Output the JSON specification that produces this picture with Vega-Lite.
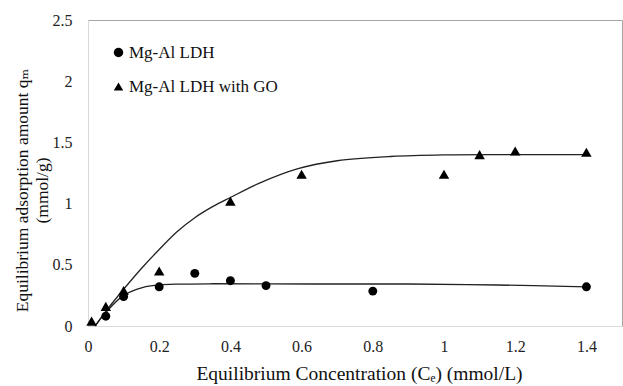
{
  "$schema": "https://vega.github.io/schema/vega-lite/v6.json",
  "width": 534,
  "height": 306,
  "autosize": {"type": "none"},
  "padding": {"left": 88, "top": 20, "right": 1, "bottom": 60},
  "background": "white",
  "config": {
    "font": "'Liberation Serif', 'DejaVu Serif', serif",
    "view": {"stroke": "#a6a6a6", "strokeWidth": 1},
    "axis": {
      "labelFont": "'Liberation Serif', 'DejaVu Serif', serif",
      "titleFont": "'Liberation Serif', 'DejaVu Serif', serif",
      "labelFontSize": 16,
      "titleFontSize": 19.5,
      "labelColor": "#222",
      "titleColor": "#111",
      "titleFontWeight": "normal",
      "grid": false,
      "ticks": false,
      "labelFlush": false,
      "domainColor": "#d9d9d9"
    },
    "legend": {
      "labelFont": "'Liberation Serif', 'DejaVu Serif', serif"
    }
  },
  "datasets": {
    "points": [
      {"x": 0.05, "y": 0.08, "series": "Mg-Al LDH"},
      {"x": 0.1, "y": 0.24, "series": "Mg-Al LDH"},
      {"x": 0.2, "y": 0.32, "series": "Mg-Al LDH"},
      {"x": 0.3, "y": 0.43, "series": "Mg-Al LDH"},
      {"x": 0.4, "y": 0.37, "series": "Mg-Al LDH"},
      {"x": 0.5, "y": 0.33, "series": "Mg-Al LDH"},
      {"x": 0.8, "y": 0.285, "series": "Mg-Al LDH"},
      {"x": 1.4, "y": 0.32, "series": "Mg-Al LDH"},
      {"x": 0.01, "y": 0.04, "series": "Mg-Al LDH with GO"},
      {"x": 0.05, "y": 0.16, "series": "Mg-Al LDH with GO"},
      {"x": 0.1, "y": 0.29, "series": "Mg-Al LDH with GO"},
      {"x": 0.2, "y": 0.45, "series": "Mg-Al LDH with GO"},
      {"x": 0.4, "y": 1.02, "series": "Mg-Al LDH with GO"},
      {"x": 0.6, "y": 1.24, "series": "Mg-Al LDH with GO"},
      {"x": 1.0, "y": 1.24, "series": "Mg-Al LDH with GO"},
      {"x": 1.1, "y": 1.4, "series": "Mg-Al LDH with GO"},
      {"x": 1.2, "y": 1.43, "series": "Mg-Al LDH with GO"},
      {"x": 1.4, "y": 1.42, "series": "Mg-Al LDH with GO"}
    ],
    "fit": [
      {"x": 0.02, "y": 0.0, "series": "LDH"},
      {"x": 0.05, "y": 0.11, "series": "LDH"},
      {"x": 0.1, "y": 0.25, "series": "LDH"},
      {"x": 0.155, "y": 0.316, "series": "LDH"},
      {"x": 0.2, "y": 0.335, "series": "LDH"},
      {"x": 0.25, "y": 0.342, "series": "LDH"},
      {"x": 0.35, "y": 0.345, "series": "LDH"},
      {"x": 0.5, "y": 0.344, "series": "LDH"},
      {"x": 0.7, "y": 0.343, "series": "LDH"},
      {"x": 0.9, "y": 0.343, "series": "LDH"},
      {"x": 1.15, "y": 0.335, "series": "LDH"},
      {"x": 1.4, "y": 0.32, "series": "LDH"},
      {"x": 0.02, "y": 0.0, "series": "GO"},
      {"x": 0.05, "y": 0.12, "series": "GO"},
      {"x": 0.1, "y": 0.3, "series": "GO"},
      {"x": 0.15, "y": 0.47, "series": "GO"},
      {"x": 0.2, "y": 0.625, "series": "GO"},
      {"x": 0.25, "y": 0.77, "series": "GO"},
      {"x": 0.3, "y": 0.885, "series": "GO"},
      {"x": 0.35, "y": 0.975, "series": "GO"},
      {"x": 0.4, "y": 1.05, "series": "GO"},
      {"x": 0.48, "y": 1.165, "series": "GO"},
      {"x": 0.59, "y": 1.285, "series": "GO"},
      {"x": 0.7, "y": 1.35, "series": "GO"},
      {"x": 0.85, "y": 1.385, "series": "GO"},
      {"x": 1.0, "y": 1.398, "series": "GO"},
      {"x": 1.2, "y": 1.4, "series": "GO"},
      {"x": 1.4, "y": 1.4, "series": "GO"}
    ]
  },
  "encoding": {
    "x": {
      "field": "x", "type": "quantitative",
      "scale": {"domain": [0, 1.5], "nice": false},
      "axis": {
        "values": [0, 0.2, 0.4, 0.6, 0.8, 1, 1.2, 1.4],
        "format": ".1~f",
        "labelPadding": 12,
        "title": "Equilibrium Concentration (Cₑ) (mmol/L)",
        "titleX": 271,
        "titlePadding": 10
      }
    },
    "y": {
      "field": "y", "type": "quantitative",
      "scale": {"domain": [0, 2.5], "nice": false},
      "axis": {
        "values": [0, 0.5, 1, 1.5, 2, 2.5],
        "format": ".1~f",
        "labelPadding": 16,
        "title": ["Equilibrium adsorption amount qₘ", "(mmol/g)"],
        "titleFontSize": 17.5,
        "titleY": 170,
        "titlePadding": 1
      }
    }
  },
  "layer": [
    {
      "data": {"name": "fit"},
      "mark": {"type": "line", "interpolate": "catmull-rom", "color": "#222", "strokeWidth": 1.3},
      "encoding": {
        "detail": {"field": "series"}
      }
    },
    {
      "data": {"name": "points"},
      "transform": [{"filter": "datum.series === 'Mg-Al LDH'"}],
      "mark": {"type": "point", "filled": true, "opacity": 1, "color": "black", "size": 80},
      "encoding": {
        "shape": {
          "field": "series", "type": "nominal",
          "scale": {"domain": ["Mg-Al LDH", "Mg-Al LDH with GO"], "range": ["circle", "triangle-up"]},
          "legend": {
            "title": null,
            "orient": "none",
            "legendX": 22,
            "legendY": 24,
            "labelFontSize": 17,
            "labelColor": "#111",
            "symbolSize": 90,
            "symbolFillColor": "black",
            "symbolStrokeColor": "black",
            "rowPadding": 16,
            "labelOffset": 2
          }
        }
      }
    },
    {
      "data": {"name": "points"},
      "transform": [{"filter": "datum.series === 'Mg-Al LDH with GO'"}],
      "mark": {"type": "point", "filled": true, "opacity": 1, "color": "black", "size": 110},
      "encoding": {
        "shape": {
          "field": "series", "type": "nominal",
          "scale": {"domain": ["Mg-Al LDH", "Mg-Al LDH with GO"], "range": ["circle", "triangle-up"]}
        }
      }
    }
  ]
}
